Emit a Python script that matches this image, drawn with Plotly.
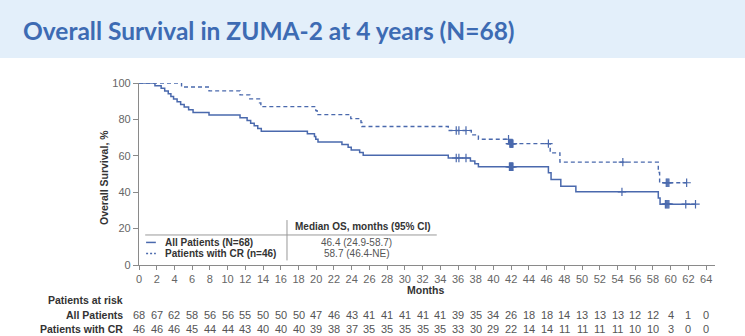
import numpy as np
import plotly.graph_objects as go

# ---------------- data ----------------
all_t = [0, 1.8, 2.5, 2.9, 3.3, 3.6, 3.9, 4.3, 4.7, 5.1, 5.6, 6.1, 7.9, 11.4, 12.2, 12.6, 13.0, 13.4, 13.8,
         19.0, 19.8, 19.95, 20.2, 22.9, 23.6, 23.95, 24.9, 25.3, 34.9, 37.4, 37.9, 38.3,
         46.2, 46.5, 47.6, 49.3, 58.6, 58.8, 62.8]
all_s = [100, 98.5, 97.1, 95.6, 94.1, 92.6, 91.2, 89.7, 88.2, 86.8, 85.3, 83.8, 82.4, 80.9, 79.4, 77.9, 76.5, 75.0, 73.5,
         72.1, 70.6, 69.1, 67.6, 66.2, 64.7, 63.2, 61.8, 60.3, 58.8, 57.2, 55.6, 54.0,
         50.7, 47.0, 43.3, 40.2, 36.8, 33.4, 33.4]
all_cens = [35.8, 36.1, 36.9, 41.8, 41.85, 41.9, 41.95, 42.0, 42.05, 42.1, 42.15, 42.2,
            54.5, 59.4, 59.5, 59.6, 59.7, 59.8, 61.7, 62.8]

cr_t = [0, 4.8, 7.9, 11.4, 12.5, 13.6, 13.75, 19.95, 20.1, 23.9, 25.05, 25.15, 34.9, 37.5, 38.3, 41.8,
        46.4, 47.5, 58.6, 58.75, 61.8]
cr_s = [100, 97.8, 95.7, 93.5, 91.3, 89.1, 87.0, 84.8, 82.6, 80.4, 78.3, 76.1, 73.9, 71.5, 69.1, 66.7,
        61.6, 56.5, 50.8, 45.2, 45.2]
cr_cens = [35.8, 36.1, 36.9, 41.7, 41.85, 41.9, 41.95, 42.0, 42.05, 42.1, 42.15, 42.2,
           46.2, 54.6, 59.5, 59.6, 59.7, 59.8, 61.8]

risk_months = list(range(0, 65, 2))
risk_all = [68, 67, 62, 58, 56, 56, 55, 50, 50, 50, 47, 46, 43, 41, 41, 41, 41, 41, 39, 35, 34, 26, 18, 18,
            14, 13, 13, 13, 12, 12, 4, 1, 0]
risk_cr = [46, 46, 46, 45, 44, 44, 43, 40, 40, 40, 39, 38, 37, 35, 35, 35, 35, 35, 33, 30, 29, 22, 14, 14,
           11, 11, 11, 11, 10, 10, 3, 0, 0]

x_ticks = list(range(0, 65, 2))
y_ticks = [0, 20, 40, 60, 80, 100]

series_names = ["All Patients (N=68)", "Patients with CR (n=46)"]
median_os = ["46.4 (24.9-58.7)", "58.7 (46.4-NE)"]
title_text = "Overall Survival in ZUMA-2 at 4 years (N=68)"

# ---------------- style ----------------
BLUE = "#4a69ad"
GREY = "#8a8a8a"
TXT = "#333333"
NUM = "#555555"
FONT = "Liberation Sans, Arial, sans-serif"

W, H = 745, 336
ML, MR, MT, MB = 139, 30, 83, 71
PW = W - ML - MR
PH = H - MT - MB


def px_to_paper_y(py):
    return (H - MB - py) / PH


def px_to_paper_x(px):
    return (px - ML) / PW


def step_val(t, s, x):
    t = np.asarray(t)
    s = np.asarray(s)
    idx = np.searchsorted(t, np.asarray(x), side="right") - 1
    return s[idx]


fig = go.Figure()

fig.add_trace(go.Scatter(x=all_t, y=all_s, mode="lines", line=dict(color=BLUE, width=1.5, shape="hv"),
                         cliponaxis=False, showlegend=False))
fig.add_trace(go.Scatter(x=cr_t, y=cr_s, mode="lines",
                         line=dict(color=BLUE, width=1.4, shape="hv", dash="4px,3px"),
                         cliponaxis=False, showlegend=False))
fig.add_trace(go.Scatter(x=all_cens, y=step_val(all_t, all_s, all_cens), mode="markers",
                         marker=dict(symbol="cross-thin", size=6, line=dict(color=BLUE, width=1.2)),
                         cliponaxis=False, showlegend=False))
fig.add_trace(go.Scatter(x=cr_cens, y=step_val(cr_t, cr_s, cr_cens), mode="markers",
                         marker=dict(symbol="cross-thin", size=6, line=dict(color=BLUE, width=1.2)),
                         cliponaxis=False, showlegend=False))

shapes = []
annotations = []

# title band
shapes.append(dict(type="rect", xref="paper", yref="paper",
                   x0=px_to_paper_x(0), x1=px_to_paper_x(W), y0=px_to_paper_y(58), y1=px_to_paper_y(0),
                   fillcolor="#e3effa", line=dict(width=0), layer="below"))
annotations.append(dict(xref="paper", yref="paper", x=px_to_paper_x(21), y=px_to_paper_y(31),
                        xanchor="left", yanchor="middle", showarrow=False, text=title_text,
                        font=dict(family="Lato, Open Sans, sans-serif",
                                  size=24.5, color="#3d6bb3", weight="bold")))

# inner median table
shapes.append(dict(type="line", xref="x", yref="y", x0=0.7, x1=33.6, y0=16.5, y1=16.5,
                   line=dict(color="#999999", width=1)))
shapes.append(dict(type="line", xref="x", yref="y", x0=16.7, x1=16.7, y0=2.5, y1=24.7,
                   line=dict(color="#999999", width=1)))
shapes.append(dict(type="line", xref="x", yref="y", x0=0.8, x1=1.9, y0=12.4, y1=12.4,
                   line=dict(color=BLUE, width=1.5)))
shapes.append(dict(type="line", xref="x", yref="y", x0=0.8, x1=1.9, y0=6.3, y1=6.3,
                   line=dict(color=BLUE, width=1.4, dash="2px,2px")))

annotations.append(dict(xref="x", yref="y", x=25.3, y=21.0, text="<b>Median OS, months (95% CI)</b>",
                        showarrow=False, xanchor="center", yanchor="middle",
                        font=dict(family=FONT, size=10, color=TXT)))
for yy, name, med in zip([12.4, 6.3], series_names, median_os):
    annotations.append(dict(xref="x", yref="y", x=2.7, y=yy, text="<b>" + name + "</b>", showarrow=False,
                            xanchor="left", yanchor="middle", font=dict(family=FONT, size=10, color=TXT)))
    annotations.append(dict(xref="x", yref="y", x=24.6, y=yy, text=med, showarrow=False,
                            xanchor="center", yanchor="middle", font=dict(family=FONT, size=10, color=NUM)))

# axis title for months
annotations.append(dict(xref="x", yref="paper", x=32.3, y=px_to_paper_y(290), text="<b>Months</b>",
                        showarrow=False, xanchor="center", yanchor="middle",
                        font=dict(family=FONT, size=10.5, color=TXT)))
# y axis title
annotations.append(dict(xref="paper", yref="paper", x=px_to_paper_x(104), y=px_to_paper_y(178),
                        text="<b>Overall Survival, %</b>", textangle=-90, showarrow=False,
                        xanchor="center", yanchor="middle", font=dict(family=FONT, size=10.5, color=TXT)))

# risk table
lab_x = px_to_paper_x(125)
for py, lab in zip([300, 315, 329], ["Patients at risk", "All Patients", "Patients with CR"]):
    annotations.append(dict(xref="paper", yref="paper", x=lab_x, y=px_to_paper_y(py), text="<b>" + lab + "</b>",
                            showarrow=False, xanchor="right", yanchor="middle",
                            font=dict(family=FONT, size=10.5, color=TXT)))
for py, vals in zip([315, 329], [risk_all, risk_cr]):
    for m, v in zip(risk_months, vals):
        annotations.append(dict(xref="x", yref="paper", x=m, y=px_to_paper_y(py), text=str(v),
                                showarrow=False, xanchor="center", yanchor="middle",
                                font=dict(family=FONT, size=11, color=NUM)))

fig.update_layout(
    width=W, height=H,
    margin=dict(l=ML, r=MR, t=MT, b=MB, pad=0),
    paper_bgcolor="white", plot_bgcolor="white",
    shapes=shapes, annotations=annotations,
    xaxis=dict(range=[0, 65], tickvals=x_ticks, ticks="outside", ticklen=4, tickcolor=GREY,
               showline=True, linecolor=GREY, linewidth=1, showgrid=False, zeroline=False,
               tickfont=dict(family=FONT, size=11, color="#666666")),
    yaxis=dict(range=[0, 100], tickvals=y_ticks, ticks="outside", ticklen=5, tickcolor=GREY,
               showline=True, linecolor=GREY, linewidth=1.2, showgrid=False, zeroline=False,
               tickfont=dict(family=FONT, size=11, color="#666666")),
)

fig.write_html("out.html")
